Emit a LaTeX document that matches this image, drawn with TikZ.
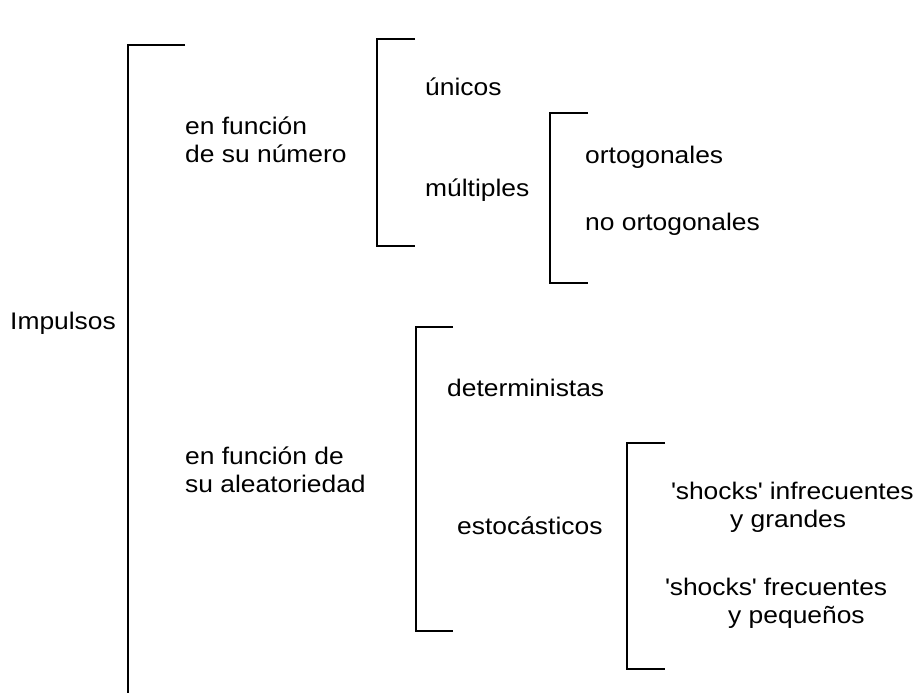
\documentclass[tikz,border=0pt]{standalone}
\usepackage{fontspec}
\setmainfont{Liberation Sans}[FakeStretch=1.1]
\usetikzlibrary{positioning}

\begin{document}
\begin{tikzpicture}[
        x=1pt, y=-1pt,
        txt/.style={anchor=west, inner sep=0pt, align=left, font=\fontsize{24}{28}\selectfont},
        brk/.style={draw, line width=1.6pt}
    ]
    \useasboundingbox (0,0) rectangle (920,693);

    % Textos
    \node (imp) [txt] at (10,323) {Impulsos};
    \node (num) [txt] at (185,140) {en función\\de su número};
    \node (ale) [txt] at (185,470) {en función de\\su aleatoriedad};
    \node (uni) [txt] at (425,87) {únicos};
    \node (mul) [txt] at (425,190) {múltiples};
    \node (ort) [txt] at (585,157) {ortogonales};
    \node (nort) [txt] at (585,224) {no ortogonales};
    \node (det) [txt] at (447,388) {deterministas};
    \node (est) [txt] at (457,526) {estocásticos};
    \node (sinf) [txt] at (671,507) {\textquotesingle shocks\textquotesingle{} infrecuentes\\\hspace*{59pt}y grandes};
    \node (sfre) [txt] at (665,603) {\textquotesingle shocks\textquotesingle{} frecuentes\\\hspace*{63pt}y pequeños};

    % Corchetes
    \coordinate (b1a) at (128,45);  \coordinate (b1b) at (128,693);
    \coordinate (b2a) at (377,39);  \coordinate (b2b) at (377,246);
    \coordinate (b3a) at (550,113); \coordinate (b3b) at (550,283);
    \coordinate (b4a) at (416,327); \coordinate (b4b) at (416,631);
    \coordinate (b5a) at (627,443); \coordinate (b5b) at (627,669);

    \draw [brk] ([xshift=57pt]b1a) -- (b1a) -- (b1b);
    \draw [brk] ([xshift=38pt]b2a) -- (b2a) -- (b2b) -- ([xshift=38pt]b2b);
    \draw [brk] ([xshift=38pt]b3a) -- (b3a) -- (b3b) -- ([xshift=38pt]b3b);
    \draw [brk] ([xshift=37pt]b4a) -- (b4a) -- (b4b) -- ([xshift=37pt]b4b);
    \draw [brk] ([xshift=38pt]b5a) -- (b5a) -- (b5b) -- ([xshift=38pt]b5b);

\end{tikzpicture}
\end{document}
